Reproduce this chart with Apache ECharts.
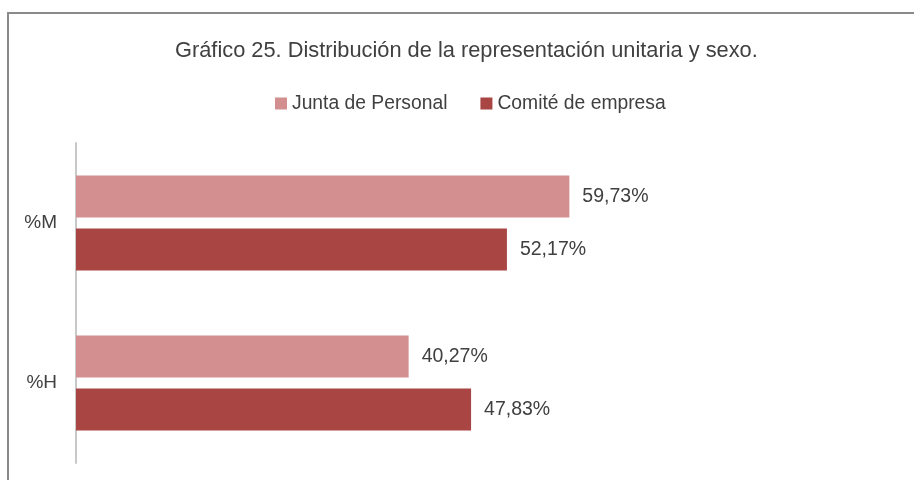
<!DOCTYPE html>
<html>
<head>
<meta charset="utf-8">
<script src="https://cdn.jsdelivr.net/npm/echarts@6/dist/echarts.min.js"></script>
<style>
html,body{margin:0;padding:0;background:#fff;}
#wrap{position:relative;width:914px;height:480px;overflow:hidden;}
#frame{position:absolute;left:7px;top:12px;width:1000px;height:600px;border-left:2px solid #8a8a8a;border-top:2px solid #8a8a8a;box-sizing:border-box;}
#chart{position:absolute;left:0;top:0;width:914px;height:480px;}
</style>
</head>
<body>
<div id="wrap"><div id="frame"></div><div id="chart"></div></div>
<script>
const titleText = 'Gráfico 25. Distribución de la representación unitaria y sexo.';
const categories = ['%M', '%H'];
const seriesNames = ['Junta de Personal', 'Comité de empresa'];
const juntaPersonal = [59.73, 40.27];
const comiteEmpresa = [52.17, 47.83];

const FONT = '"Liberation Sans",sans-serif';
const TXT = '#404040';
const fmt = p => p.value.toFixed(2).replace('.', ',') + '%';

const chart = echarts.init(document.getElementById('chart'), null, {renderer: 'canvas'});
chart.setOption({
  animation: false,
  backgroundColor: 'transparent',
  title: {
    text: titleText,
    left: 170,
    top: 35,
    textStyle: {fontFamily: FONT, fontSize: 21.8, fontWeight: 'normal', color: TXT}
  },
  legend: {
    top: 89,
    left: 270,
    itemWidth: 12,
    itemHeight: 12,
    itemGap: 33,
    icon: 'rect',
    data: seriesNames,
    textStyle: {fontFamily: FONT, fontSize: 19.3, color: TXT}
  },
  grid: {left: 76, right: 12, top: 143, bottom: 17, containLabel: false},
  xAxis: {
    type: 'value', min: 0, max: 100, show: false
  },
  yAxis: {
    type: 'category',
    data: categories,
    inverse: true,
    axisLine: {show: true, lineStyle: {color: '#c8c8c8', width: 2}},
    axisTick: {show: false},
    axisLabel: {margin: 19, fontFamily: FONT, fontSize: 19, color: TXT}
  },
  series: [
    {
      name: seriesNames[0], type: 'bar', data: juntaPersonal,
      barWidth: 42, barGap: '26%', barCategoryGap: '39%',
      itemStyle: {color: '#D38F8F'},
      label: {show: true, position: 'right', distance: 13, formatter: fmt, fontFamily: FONT, fontSize: 19.5, color: TXT}
    },
    {
      name: seriesNames[1], type: 'bar', data: comiteEmpresa,
      barWidth: 42, barGap: '26%',
      itemStyle: {color: '#A94543'},
      label: {show: true, position: 'right', distance: 13, formatter: fmt, fontFamily: FONT, fontSize: 19.5, color: TXT}
    }
  ]
});
</script>
</body>
</html>
